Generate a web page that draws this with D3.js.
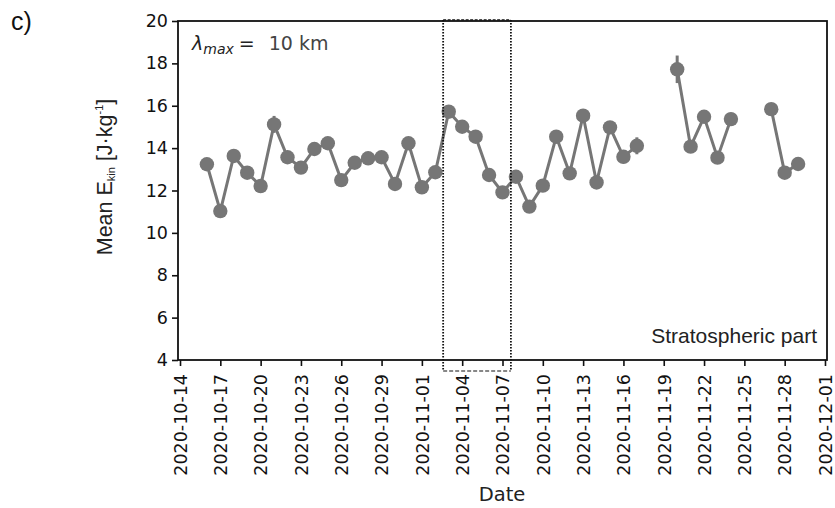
<!DOCTYPE html>
<html>
<head>
<meta charset="utf-8">
<script src="https://cdn.jsdelivr.net/npm/d3@7"></script>
<style>
  body { margin: 0; background: #fff; }
  svg { font-family: "DejaVu Sans", sans-serif; }
</style>
</head>
<body>
<svg id="canvas" width="835" height="508"></svg>
<script>
const dates = [
    "2020-10-16", "2020-10-17", "2020-10-18", "2020-10-19", "2020-10-20", "2020-10-21",
    "2020-10-22", "2020-10-23", "2020-10-24", "2020-10-25", "2020-10-26", "2020-10-27",
    "2020-10-28", "2020-10-29", "2020-10-30", "2020-10-31", "2020-11-01", "2020-11-02",
    "2020-11-03", "2020-11-04", "2020-11-05", "2020-11-06", "2020-11-07", "2020-11-08",
    "2020-11-09", "2020-11-10", "2020-11-11", "2020-11-12", "2020-11-13", "2020-11-14",
    "2020-11-15", "2020-11-16", "2020-11-17", "2020-11-18", "2020-11-19", "2020-11-20",
    "2020-11-21", "2020-11-22", "2020-11-23", "2020-11-24", "2020-11-25", "2020-11-26",
    "2020-11-27", "2020-11-28", "2020-11-29"
];
const meanEkin = [
    13.24, 11.03, 13.63, 12.84, 12.21, 15.12,
    13.57, 13.08, 13.96, 14.23, 12.49, 13.31,
    13.52, 13.57, 12.31, 14.23, 12.15, 12.86,
    15.72, 15.01, 14.54, 12.73, 11.91, 12.65,
    11.24, 12.23, 14.54, 12.81, 15.53, 12.38,
    14.98, 13.59, 14.11, null, null, 17.72,
    14.07, 15.48, 13.55, 15.37, null, null,
    15.84, 12.84, 13.25
];
const errors = [
    0.12, 0.12, 0.12, 0.12, 0.12, 0.4,
    0.12, 0.12, 0.12, 0.2, 0.12, 0.12,
    0.12, 0.12, 0.12, 0.12, 0.12, 0.12,
    0.15, 0.12, 0.12, 0.12, 0.12, 0.12,
    0.12, 0.15, 0.3, 0.2, 0.3, 0.25,
    0.3, 0.3, 0.4, null, null, 0.65,
    0.12, 0.2, 0.12, 0.3, null, null,
    0.12, 0.12, 0.12
];
const tickDates = [
    "2020-10-14", "2020-10-17", "2020-10-20", "2020-10-23", "2020-10-26", "2020-10-29",
    "2020-11-01", "2020-11-04", "2020-11-07", "2020-11-10", "2020-11-13", "2020-11-16",
    "2020-11-19", "2020-11-22", "2020-11-25", "2020-11-28", "2020-12-01"
];
const yTicks = [4, 6, 8, 10, 12, 14, 16, 18, 20];
// highlighted period (dotted frame)
const boxDates = ["2020-11-02T14:00:00Z", "2020-11-07T15:00:00Z"];

const parse = d3.utcParse("%Y-%m-%d");
const svg = d3.select("#canvas");
const plotLeft = 178, plotRight = 827, plotTop = 21, plotBottom = 360;
const grey = "#767676";
const arial = "'Liberation Sans', Arial, sans-serif";

const day = 864e5;
const x = d3.scaleUtc()
    .domain([new Date(+parse("2020-10-14") - 0.15 * day), new Date(+parse("2020-12-01") + 0.15 * day)])
    .range([plotLeft, plotRight]);
const y = d3.scaleLinear().domain([4, 20]).range([plotBottom, plotTop]);

const data = dates.map((d, i) => ({ date: parse(d), v: meanEkin[i], e: errors[i] }));

// axes
const xAxis = d3.axisBottom(x)
    .tickValues(tickDates.map(parse))
    .tickFormat(d3.utcFormat("%Y-%m-%d"))
    .tickSize(6)
    .tickPadding(4);
const gx = svg.append("g").attr("transform", `translate(0,${plotBottom})`).call(xAxis);
gx.selectAll("text")
    .attr("transform", "rotate(-90)")
    .attr("text-anchor", "end")
    .attr("x", -14)
    .attr("y", 0)
    .attr("dy", "0.36em")
    .attr("font-size", 17.5)
    .attr("font-family", "DejaVu Sans")
    .attr("fill", "#111");

const yAxis = d3.axisLeft(y).tickValues(yTicks).tickSize(6).tickPadding(4);
const gy = svg.append("g").attr("transform", `translate(${plotLeft},0)`).call(yAxis);
gy.selectAll("text").attr("font-size", 17.5).attr("font-family", "DejaVu Sans").attr("fill", "#111");

svg.selectAll(".domain").remove();
svg.selectAll(".tick line").attr("stroke", "#111").attr("stroke-width", 1.6);

svg.append("rect")
    .attr("x", plotLeft).attr("y", plotTop)
    .attr("width", plotRight - plotLeft).attr("height", plotBottom - plotTop)
    .attr("fill", "none").attr("stroke", "#111").attr("stroke-width", 1.8);

// line and markers
const line = d3.line()
    .defined(d => d.v !== null)
    .x(d => x(d.date))
    .y(d => y(d.v));

svg.append("path")
    .datum(data)
    .attr("d", line)
    .attr("fill", "none")
    .attr("stroke", grey)
    .attr("stroke-width", 3);

const pts = data.filter(d => d.v !== null);

svg.append("g").selectAll("line")
    .data(pts)
    .join("line")
    .attr("x1", d => x(d.date))
    .attr("x2", d => x(d.date))
    .attr("y1", d => y(d.v - d.e))
    .attr("y2", d => y(d.v + d.e))
    .attr("stroke", grey)
    .attr("stroke-width", 3);

svg.append("g").selectAll("circle")
    .data(pts)
    .join("circle")
    .attr("cx", d => x(d.date))
    .attr("cy", d => y(d.v))
    .attr("r", 7.2)
    .attr("fill", grey);

// dotted frame around the period
const bx0 = x(new Date(boxDates[0])), bx1 = x(new Date(boxDates[1]));
const by0 = y(20.05), by1 = y(3.48);
const frame = svg.append("g").attr("stroke", "#111").attr("fill", "none");
frame.append("line").attr("x1", bx0).attr("x2", bx0).attr("y1", by0).attr("y2", by1)
    .attr("stroke-width", 1.8).attr("stroke-dasharray", "1.5,1.5");
frame.append("line").attr("x1", bx1).attr("x2", bx1).attr("y1", by0).attr("y2", by1)
    .attr("stroke-width", 1.8).attr("stroke-dasharray", "1.5,1.5");
frame.append("line").attr("x1", bx0).attr("x2", bx1).attr("y1", by0).attr("y2", by0)
    .attr("stroke-width", 1.2).attr("stroke-dasharray", "3,1.5");
frame.append("line").attr("x1", bx0).attr("x2", bx1).attr("y1", by1).attr("y2", by1)
    .attr("stroke-width", 1.2).attr("stroke-dasharray", "4,2");

// annotations
const lam = svg.append("text").attr("x", 192).attr("y", 50).attr("font-size", 19).attr("fill", "#222");
lam.append("tspan").attr("font-style", "italic").text("λ");
lam.append("tspan").attr("font-style", "italic").attr("font-size", 14).attr("dy", 4).text("max");
lam.append("tspan").attr("dy", -4).attr("dx", 5).text("=");
lam.append("tspan").attr("dx", 14).attr("fill", "#444").text("10 km");

svg.append("text")
    .attr("x", 817).attr("y", 343)
    .attr("text-anchor", "end")
    .attr("font-size", 21)
    .attr("font-family", arial)
    .attr("fill", "#222")
    .text("Stratospheric part");

svg.append("text")
    .attr("x", 502).attr("y", 501)
    .attr("text-anchor", "middle")
    .attr("font-size", 19.5)
    .attr("fill", "#222")
    .text("Date");

const yl = svg.append("text")
    .attr("transform", "translate(112,177) rotate(-90)")
    .attr("text-anchor", "middle")
    .attr("font-size", 21.5)
    .attr("font-family", arial)
    .attr("fill", "#222");
yl.append("tspan").text("Mean E");
yl.append("tspan").attr("font-size", 11).attr("dy", 3).text("kin");
yl.append("tspan").attr("dy", -3).text(" [J·kg");
yl.append("tspan").attr("font-size", 11).attr("dy", -9).text("-1");
yl.append("tspan").attr("dy", 9).text("]");

svg.append("text")
    .attr("x", 11).attr("y", 30)
    .attr("font-size", 25)
    .attr("font-family", arial)
    .attr("fill", "#111")
    .text("c)");
</script>
</body>
</html>
